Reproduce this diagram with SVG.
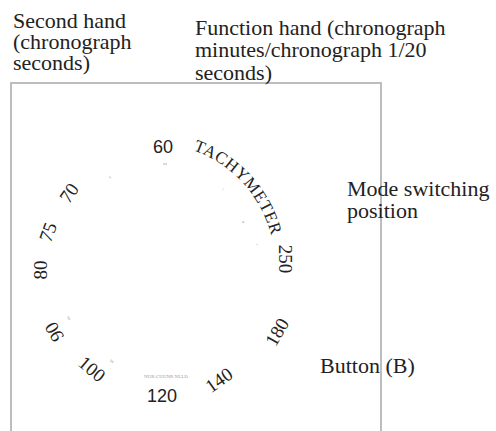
<svg xmlns="http://www.w3.org/2000/svg" width="496" height="431" viewBox="0 0 496 431">
<defs>
<style>
.lbl{font-family:"Liberation Serif","DejaVu Serif",serif;font-size:22px;fill:#222}
.num{font-family:"Liberation Serif","DejaVu Serif",serif;font-size:19px;fill:#222;text-anchor:middle;dominant-baseline:central}
.nums{font-family:"Liberation Sans","DejaVu Sans",sans-serif;font-size:18px;fill:#222;text-anchor:middle;dominant-baseline:central}
.tiny{font-family:"Liberation Serif","DejaVu Serif",serif;font-size:5px;fill:#999;text-anchor:middle;dominant-baseline:central}
.tach{font-family:"Liberation Serif","DejaVu Serif",serif;font-size:17px;fill:#222;letter-spacing:0.6px}
</style>
<path id="tachArc" d="M193,150 A124,124 0 0,1 275,258"/>
</defs>
<rect id="frame" x="11" y="83" width="370" height="360" fill="none" stroke="#bdbdbd" stroke-width="2"/>
<g id="label-second-hand">
<text class="lbl" x="13" y="28">Second hand<tspan x="13" dy="21">(chronograph</tspan><tspan x="13" dy="21">seconds)</tspan></text>
</g>
<g id="label-function-hand">
<text class="lbl" x="195" y="35">Function hand (chronograph<tspan x="195" dy="22">minutes/chronograph 1/20</tspan><tspan x="195" dy="23">seconds)</tspan></text>
</g>
<g id="label-mode">
<text class="lbl" x="347" y="196">Mode switching<tspan x="347" dy="22">position</tspan></text>
</g>
<g id="label-button">
<text class="lbl" x="320" y="373">Button (B)</text>
</g>
<g id="dial">
<text class="nums" transform="translate(163,147)">60</text>
<text class="num" transform="translate(69,193) rotate(-55)">70</text>
<text class="num" transform="translate(48,232) rotate(-70)">75</text>
<text class="num" transform="translate(40,270) rotate(-90)">80</text>
<text class="num" transform="translate(54,332) rotate(-120)">90</text>
<text class="num" transform="translate(92,369) rotate(40)">100</text>
<text class="nums" transform="translate(162,396)">120</text>
<text class="num" transform="translate(219,380) rotate(-35)">140</text>
<text class="num" transform="translate(277,332) rotate(-60)">180</text>
<text class="num" transform="translate(285,259) rotate(90)">250</text>
<text class="tach"><textPath href="#tachArc">TACHYMETER</textPath></text>
<text class="tiny" x="165" y="163">ss</text>
<text class="tiny" transform="translate(110,177) rotate(-45)">ε</text>
<text class="tiny" x="223" y="189">/</text>
<text class="tiny" x="243" y="221">a</text>
<text class="tiny" x="257" y="245">"</text>
<text class="tiny" transform="translate(69,318) rotate(60)">ss</text>
<text class="tiny" transform="translate(112,361) rotate(40)">ss</text>
<text class="tiny" x="166" y="376">NUR CUUNR NLLD</text>
</g>
</svg>
